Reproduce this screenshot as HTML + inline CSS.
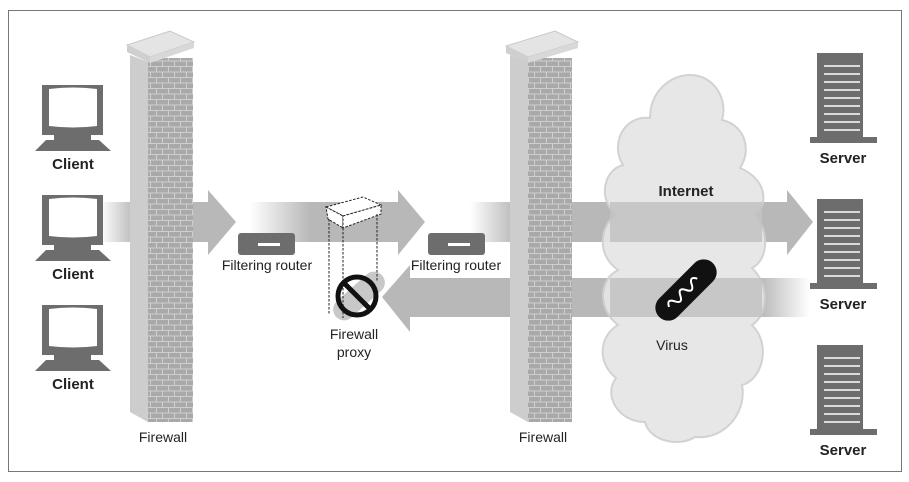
<!DOCTYPE html>
<html><head><meta charset="utf-8"><style>
html,body{margin:0;padding:0;background:#fff;width:909px;height:482px;overflow:hidden}
svg{display:block}
text{font-family:"Liberation Sans Narrow","Liberation Sans",sans-serif;fill:#222}
.b{font-weight:bold}
</style></head><body>
<svg width="909" height="482" viewBox="0 0 909 482" xmlns="http://www.w3.org/2000/svg">
<defs>
<pattern id="brick" width="12" height="11" patternUnits="userSpaceOnUse">
<rect width="12" height="11" fill="#a9a9a9"/>
<path d="M0 0.5H12M0 6H12M0.5 0V5.5M6.5 5.5V11" stroke="#cfcfcf" stroke-width="1" fill="none"/>
</pattern>
<linearGradient id="fadeL" x1="0" x2="1" y1="0" y2="0">
<stop offset="0" stop-color="#b8b8b8" stop-opacity="0"/><stop offset="1" stop-color="#b8b8b8"/>
</linearGradient>
<linearGradient id="fadeR" x1="0" x2="1" y1="0" y2="0">
<stop offset="0" stop-color="#b8b8b8"/><stop offset="1" stop-color="#b8b8b8" stop-opacity="0"/>
</linearGradient>
</defs>
<rect x="8.5" y="10.5" width="893" height="461" fill="#fff" stroke="#777" stroke-width="1"/>

<!-- arrows -->
<rect x="100" y="202" width="35" height="40" fill="url(#fadeL)"/>
<polygon points="135,202 208,202 208,190 236,222 208,255 208,242 135,242" fill="#b8b8b8"/>
<rect x="250" y="202" width="60" height="40" fill="url(#fadeL)"/>
<polygon points="310,202 398,202 398,190 425,222 398,255 398,242 310,242" fill="#b8b8b8"/>
<rect x="470" y="202" width="45" height="40" fill="url(#fadeL)"/>
<polygon points="515,202 787,202 787,190 813,222 787,255 787,242 515,242" fill="#b8b8b8"/>
<polygon points="382,297 410,265 410,278 760,278 760,317 410,317 410,332" fill="#b8b8b8"/>
<rect x="760" y="278" width="50" height="39" fill="url(#fadeR)"/>

<!-- cloud -->
<g fill="#e6e6e6" stroke="#cfcfcf" stroke-width="2" opacity="0.93">
<path d="M690 75 C715 75 728 100 722 120 C745 125 752 150 740 168 C768 180 768 205 755 215 C770 232 768 260 752 268 C770 285 768 315 752 325 C772 345 762 380 742 385 C747 410 727 440 695 437 C680 447 650 442 645 422 C618 422 603 395 616 378 C596 362 600 335 618 325 C598 310 598 280 618 270 C596 255 600 225 616 215 C598 200 603 170 623 165 C610 145 623 115 650 118 C650 92 670 75 690 75 Z"/>
</g>
<rect x="610" y="202" width="152" height="40" fill="#c2c2c2" opacity="0.85"/>
<rect x="610" y="278" width="152" height="39" fill="#c2c2c2" opacity="0.85"/>

<!-- wall 1 -->
<polygon points="130,55 148,62 148,422 130,412" fill="#cdcdcd"/>
<rect x="148" y="58" width="45" height="364" fill="url(#brick)"/>
<polygon points="127,45 170,31 194,42 150,57" fill="#e4e4e4" stroke="#c8c8c8"/>
<polygon points="127,45 150,57 150,63 127,52" fill="#cfcfcf"/>
<polygon points="150,57 194,42 194,48 150,63" fill="#d8d8d8"/>
<text x="163" y="442" font-size="14" text-anchor="middle">Firewall</text>

<!-- wall 2 -->
<polygon points="510,55 528,62 528,422 510,412" fill="#cdcdcd"/>
<rect x="528" y="58" width="44" height="364" fill="url(#brick)"/>
<polygon points="506,46 555,31 578,42 528,57" fill="#e4e4e4" stroke="#c8c8c8"/>
<polygon points="506,46 528,57 528,63 506,53" fill="#cfcfcf"/>
<polygon points="528,57 578,42 578,48 528,63" fill="#d8d8d8"/>
<text x="543" y="442" font-size="14" text-anchor="middle">Firewall</text>

<!-- clients -->
<g id="cl">
<rect x="42" y="85" width="61" height="50" fill="#6d6d6d"/>
<path d="M49 89 Q73 86 97 89 L97 126 Q73 129 49 126 Z" fill="#fff"/>
<rect x="54" y="135" width="37" height="5" fill="#6d6d6d"/>
<polygon points="46,140 99,140 111,151 35,151" fill="#6d6d6d"/>
<text x="73" y="169" font-size="15" class="b" text-anchor="middle">Client</text>
</g>
<use href="#cl" y="110"/>
<use href="#cl" y="220"/>

<!-- servers -->
<g id="sv">
<rect x="817" y="53" width="46" height="84" fill="#6d6d6d"/>
<rect x="810" y="137" width="67" height="6" fill="#6d6d6d"/>
<path d="M824 66H860M824 74H860M824 82H860M824 90H860M824 98H860M824 106H860M824 114H860M824 122H860M824 130H860" stroke="#fff" stroke-width="1.6"/>
<text x="843" y="163" font-size="15" class="b" text-anchor="middle">Server</text>
</g>
<use href="#sv" y="146"/>
<use href="#sv" y="292"/>

<!-- routers -->
<rect x="238" y="233" width="57" height="22" rx="3" fill="#6d6d6d"/>
<rect x="258" y="243" width="22" height="3" fill="#fff"/>
<text x="267" y="270" font-size="14" text-anchor="middle">Filtering router</text>
<rect x="428" y="233" width="57" height="22" rx="3" fill="#6d6d6d"/>
<rect x="448" y="243" width="22" height="3" fill="#fff"/>
<text x="456" y="270" font-size="14" text-anchor="middle">Filtering router</text>

<!-- proxy -->
<rect x="328" y="285" width="62" height="22" rx="11" fill="#c8c8c8" transform="rotate(-42 359 296)"/>
<g fill="none" stroke="#222" stroke-width="1" stroke-dasharray="2.5,1.5">
<polygon points="326,207 363,197 381,205 343,216" fill="#fff"/>
<polygon points="326,207 343,216 343,228 328,219" fill="#fff"/>
<polygon points="343,216 381,205 381,214 343,228" fill="#fff"/>
<path d="M329 219 V314 M343 228 V318 M377 214 V282"/>
</g>
<circle cx="357" cy="296" r="19" fill="none" stroke="#111" stroke-width="5"/>
<line x1="344" y1="283" x2="370" y2="309" stroke="#111" stroke-width="5"/>
<text x="354" y="339" font-size="14" text-anchor="middle">Firewall</text>
<text x="354" y="357" font-size="14" text-anchor="middle">proxy</text>

<!-- internet -->
<text x="686" y="196" font-size="15" class="b" text-anchor="middle">Internet</text>
<g transform="rotate(-45 686 290)">
<rect x="648" y="277" width="76" height="26" rx="13" fill="#111"/>
<path d="M662 290 q4 -8 8 0 t8 0 t8 0 t8 0 t8 0" fill="none" stroke="#fff" stroke-width="2"/>
</g>
<text x="672" y="350" font-size="14" text-anchor="middle">Virus</text>
</svg>
</body></html>
